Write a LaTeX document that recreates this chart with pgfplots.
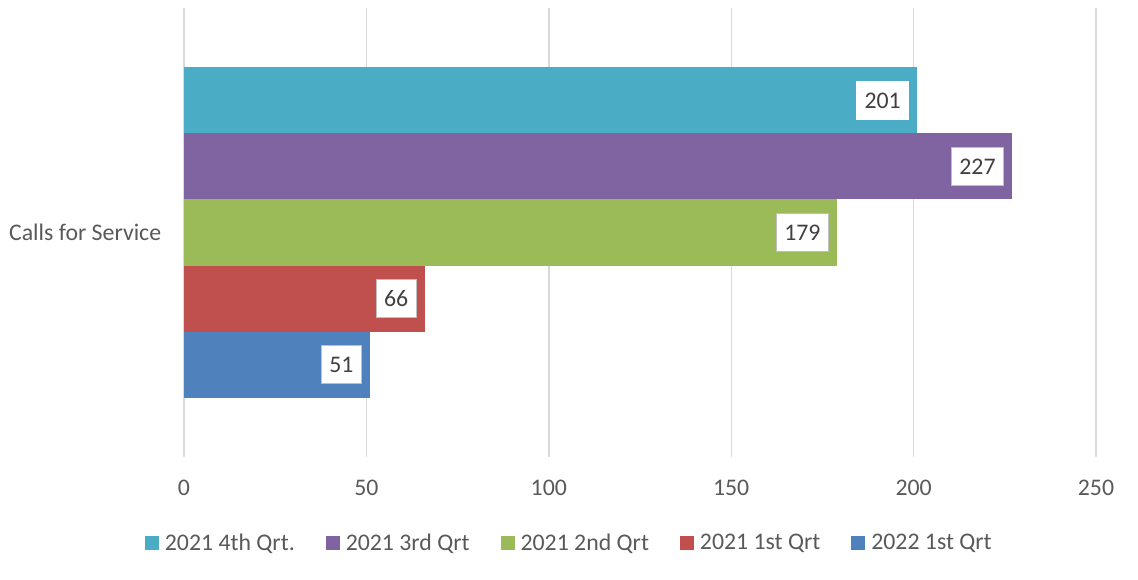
\documentclass[border=0pt]{standalone}
\usepackage{pgfplots}
\pgfplotsset{compat=1.18}
\usepackage{fontspec}
\setmainfont{Carlito}
\definecolor{c4}{HTML}{4BACC6}
\definecolor{c3}{HTML}{8064A2}
\definecolor{c2}{HTML}{9BBB59}
\definecolor{c1}{HTML}{C0504D}
\definecolor{c0}{HTML}{4F81BD}
\definecolor{txt}{HTML}{595959}
\definecolor{lbl}{HTML}{404040}
\newcommand{\chartfont}{\fontsize{23.8pt}{28pt}\selectfont}
\begin{document}
\begin{tikzpicture}[x=1pt,y=1pt]
\path (-184,-122) rectangle (954,457);
\begin{axis}[
    at={(0,0)}, anchor=south west,
    scale only axis, width=912pt, height=449pt,
    xbar, bar width=1, bar shift=0pt,
    xmin=0, xmax=250, ymin=-1.4, ymax=5.4,
    xtick={0,50,...,250},
    ytick={2}, yticklabels={Calls for Service},
    xmajorgrids, major grid style={draw=black!15, line width=1.4pt},
    axis line style={draw=none}, tick style={draw=none},
    /pgf/number format/assume math mode=true,
    ticklabel style={font=\chartfont, text=txt},
    xticklabel style={yshift=-20pt},
    yticklabel style={xshift=-15pt},
    nodes near coords,
    every node near coord/.append style={font=\chartfont, text=lbl, anchor=east,
        xshift=-8pt, fill=white, draw=black!25, line width=1pt,
        inner xsep=8pt, minimum height=38pt},
    legend columns=-1,
    legend style={draw=none, fill=none, at={(0.4225,-0.1915)}, anchor=center,
        font=\chartfont, text=txt,
        /tikz/every odd column/.append style={column sep=4pt},
        /tikz/every even column/.append style={column sep=29pt}},
    legend image code/.code={\fill[#1] (0pt,-7pt) rectangle (14pt,7pt);},
]
\addplot[fill=c4, draw=none, every node near coord/.append style={draw=white}] coordinates {(201,4)};
\addlegendentry{2021 4th Qrt.}
\addplot[fill=c3, draw=none] coordinates {(227,3)};
\addlegendentry{2021 3rd Qrt}
\addplot[fill=c2, draw=none] coordinates {(179,2)};
\addlegendentry{2021 2nd Qrt}
\addplot[fill=c1, draw=none] coordinates {(66,1)};
\addlegendentry{2021 1st Qrt}
\addplot[fill=c0, draw=none] coordinates {(51,0)};
\addlegendentry{2022 1st Qrt}
\end{axis}
\end{tikzpicture}
\end{document}
